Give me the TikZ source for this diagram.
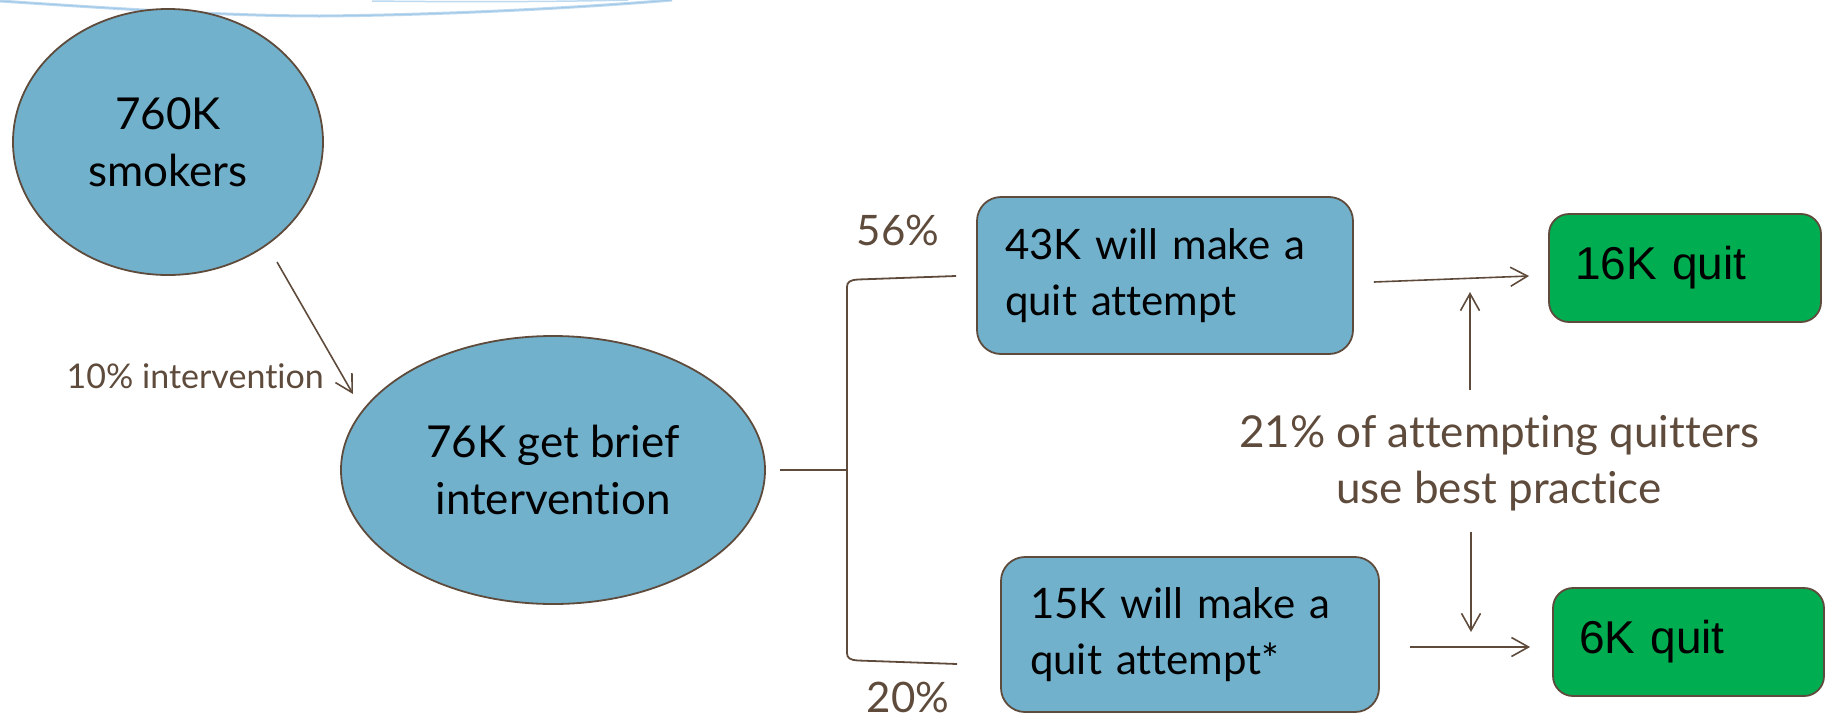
\documentclass[tikz,border=0pt]{standalone}
\usepackage{fontspec}
\setmainfont[Ligatures=NoCommon]{Lato}
\newfontfamily\arialf{Liberation Sans}
\usetikzlibrary{arrows.meta,shapes.geometric,calc}
\definecolor{cellblue}{RGB}{114,177,204}
\definecolor{brownc}{RGB}{94,75,60}
\definecolor{quitgreen}{RGB}{0,173,80}
\definecolor{decoblue}{RGB}{190,218,240}
\definecolor{decoblue2}{RGB}{160,200,232}
\begin{document}
\begin{tikzpicture}[x=1pt,y=-1pt,
  blob/.style={ellipse, draw=brownc, line width=1.8pt, fill=cellblue, align=center, text=black, inner sep=0pt,
    font=\fontsize{44}{57}\selectfont},
  attempt/.style={rectangle, rounded corners=24pt, draw=brownc, line width=1.8pt, fill=cellblue, text=black,
    align=left, inner xsep=28pt, inner ysep=0pt, font=\fontsize{42}{56}\selectfont},
  quitbox/.style={rectangle, rounded corners=20pt, draw=brownc, line width=1.8pt, fill=quitgreen, text=black,
    align=left, inner xsep=26pt, inner ysep=0pt, font=\arialf\fontsize{46}{52}\selectfont},
  lbl/.style={text=brownc, inner sep=0pt, align=center},
  flow/.style={draw=brownc, line width=1.6pt, -{Straight Barb[length=17pt,width=19pt,line width=1.6pt]}},
  bracketline/.style={draw=brownc, line width=1.8pt},
  deco/.style={draw=decoblue, line width=3pt},
]
\useasboundingbox (0,0) rectangle (1832,718);

% decorative top curves
\draw[deco] (0,1) .. controls (120,9) and (230,16) .. (320,16) .. controls (450,15) and (590,7) .. (672,0);
\draw[draw=decoblue2, line width=1pt] (0,1) .. controls (120,9) and (230,16) .. (320,16) .. controls (450,15) and (590,7) .. (672,0);
\draw[draw=decoblue, line width=1.5pt] (372,1) .. controls (450,2) and (550,2) .. (628,0);

% nodes
\node[blob, minimum width=310pt, minimum height=266pt] (smokers) at (168,142) {760K\\smokers};
\node[blob, minimum width=424pt, minimum height=268pt] (brief) at (553,470) {76K get brief\\intervention};

\node[attempt, minimum width=376pt, minimum height=157pt, text width=320pt] (att1) at (1165,275.5) {43K will make a\\quit attempt};
\node[attempt, minimum width=378pt, minimum height=155pt, text width=320pt] (att2) at (1190,634.5) {15K will make a\\quit attempt*};

\node[quitbox, minimum width=272pt, minimum height=108pt, text width=220pt] (q16) at (1685,268) {16K quit};
\node[quitbox, minimum width=271pt, minimum height=108pt, text width=219pt, inner xsep=24pt] (q6) at (1688.5,642) {6K quit};

% labels
\node[lbl, anchor=east, font=\fontsize{34}{40}\selectfont] (pct10) at (324,376) {10\% intervention};
\node[lbl, font=\fontsize{42}{50}\selectfont] (pct56) at (898,230) {56\%};
\node[lbl, font=\fontsize{42}{50}\selectfont] (pct20) at (908,697) {20\%};
\node[lbl, font=\fontsize{44}{56}\selectfont] (best) at (1499,463) {21\% of attempting quitters\\use best practice};

% connector end points
\coordinate (a1s) at ($(smokers.center)+(109,120)$);
\coordinate (a1e) at ($(brief.center)+(-200,-76)$);
\coordinate (brk) at (847,470);
\coordinate (brkT) at (847,287);
\coordinate (brkB) at (847,653);
\coordinate (bestUp) at (1470,390);
\coordinate (bestDn) at (1471,532);

% arrows
\draw[flow] (a1s) -- (a1e);
\draw[flow] ($(att1.east)+(20,6.5)$) -- ($(q16.west)+(-19,8)$);
\draw[flow] ($(att2.east)+(30,12.5)$) -- ($(q6.west)+(-22,5)$);
\draw[flow] (bestUp) -- (1470,292);
\draw[flow] (bestDn) -- (1471,632);

% bracket
\draw[bracketline] ($(brief.east)+(14,0)$) -- (brk);
\draw[bracketline] ($(att1.west)+(-20,0.5)$) -- (858,279.5) .. controls (850,280) and (847,282) .. (brkT) -- (brkB)
   .. controls (847,658) and (850,660) .. (858,660.5) -- ($(att2.west)+(-43,29.5)$);
\end{tikzpicture}
\end{document}
